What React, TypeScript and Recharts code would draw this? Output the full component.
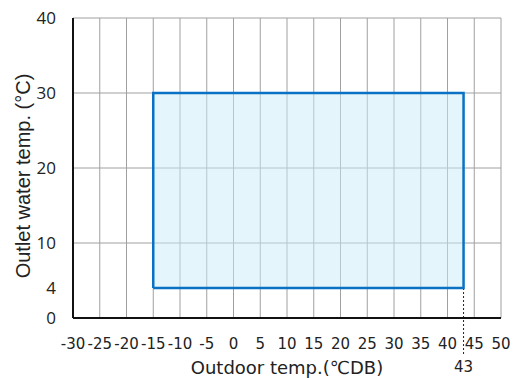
import React from "react";
import {
  ComposedChart,
  Line,
  XAxis,
  YAxis,
  CartesianGrid,
  ReferenceArea,
  ReferenceLine,
} from "recharts";

const xTicks = [-30, -25, -20, -15, -10, -5, 0, 5, 10, 15, 20, 25, 30, 35, 40, 45, 50];
const yTicks = [0, 4, 10, 20, 30, 40];
const gridX = [-25, -20, -15, -10, -5, 0, 5, 10, 15, 20, 25, 30, 35, 40, 45, 50];
const gridY = [10, 20, 30, 40];
const envelopeX = [-15, -15, 43, 43, -15];
const envelopeY = [4, 30, 30, 4, 4];
const maxOutdoor = 43;
const markerBottom = -5;

const envelope = envelopeX.map((x, i) => ({ x, y: envelopeY[i] }));

const XTick = (props: any) => {
  const { x, y, payload } = props;
  const special = payload.value === maxOutdoor;
  return (
    <text
      x={x}
      y={y}
      dy={special ? 46 : 23}
      textAnchor="middle"
      fontFamily="DejaVu Sans, Verdana, sans-serif"
      fontSize={15}
      fill="#222"
    >
      {payload.value}
    </text>
  );
};

const YTitle = (props: any) => {
  const { viewBox } = props;
  const cy = viewBox.y + viewBox.height / 2 + 8;
  return (
    <text
      x={23}
      y={cy}
      transform={`rotate(-90, 23, ${cy})`}
      textAnchor="middle"
      dominantBaseline="central"
      fontFamily="Liberation Sans, Arial, sans-serif"
      fontSize={20}
      fill="#222"
    >
      Outlet water temp. (°C)
    </text>
  );
};

const XTitle = (props: any) => {
  const { viewBox } = props;
  const cx = viewBox.x + viewBox.width / 2;
  return (
    <text
      x={cx}
      y={374}
      textAnchor="middle"
      fontFamily="DejaVu Sans, Verdana, sans-serif"
      fontSize={18}
      fill="#222"
    >
      Outdoor temp.(℃DB)
    </text>
  );
};

export default function App() {
  return (
    <div style={{ position: "absolute", left: 0, top: 0 }}>
      <ComposedChart
        width={515}
        height={378}
        data={envelope}
        margin={{ top: 18, right: 14, bottom: 0, left: 0 }}
      >
        <CartesianGrid
          stroke="#a0a0a0"
          strokeWidth={1}
          horizontalValues={gridY}
          verticalValues={gridX}
        />
        <ReferenceArea
          x1={envelopeX[0]}
          x2={envelopeX[2]}
          y1={envelopeY[0]}
          y2={envelopeY[1]}
          fill="#c9ebf8"
          fillOpacity={0.5}
          stroke="none"
        />
        <XAxis
          type="number"
          dataKey="x"
          domain={[-30, 50]}
          ticks={[...xTicks, maxOutdoor]}
          interval={0}
          height={60}
          tickLine={false}
          axisLine={{ stroke: "#111", strokeWidth: 2 }}
          tick={<XTick />}
          label={<XTitle />}
          allowDataOverflow
        />
        <YAxis
          type="number"
          dataKey="y"
          domain={[0, 40]}
          ticks={yTicks}
          interval={0}
          width={73}
          tickLine={false}
          axisLine={{ stroke: "#111", strokeWidth: 2 }}
          tick={{ fontFamily: "Open Sans, sans-serif", fontSize: 17, fill: "#222" }}
          tickMargin={11}
          label={<YTitle />}
        />
        <ReferenceLine
          segment={[
            { x: maxOutdoor, y: envelopeY[0] },
            { x: maxOutdoor, y: markerBottom },
          ]}
          stroke="#222"
          strokeDasharray="2 2"
          ifOverflow="visible"
        />
        <Line
          type="linear"
          dataKey="y"
          stroke="#0a72c4"
          strokeWidth={2.5}
          dot={false}
          isAnimationActive={false}
        />
      </ComposedChart>
    </div>
  );
}
